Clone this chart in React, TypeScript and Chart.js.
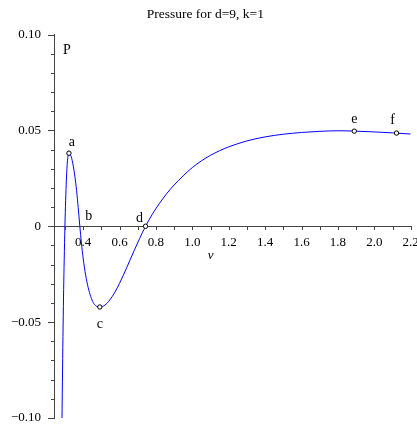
import React, { useEffect, useRef } from 'react';
import { Chart, registerables } from 'chart.js';
Chart.register(...registerables);

// Curve: pressure P against volume v
const V_CURVE = [0.284, 0.287, 0.29, 0.293, 0.296, 0.3, 0.304, 0.308, 0.312, 0.316, 0.322, 0.328, 0.334, 0.34, 0.346, 0.355, 0.364, 0.373, 0.382, 0.39, 0.4, 0.414, 0.428, 0.442, 0.456, 0.47, 0.492, 0.52, 0.547, 0.575, 0.6, 0.64, 0.68, 0.71, 0.743, 0.78, 0.82, 0.86, 0.9, 0.95, 1.0, 1.05, 1.1, 1.15, 1.2, 1.3, 1.4, 1.5, 1.6, 1.7, 1.8, 1.9, 2.0, 2.1, 2.2];
const P_CURVE = [-0.1, -0.075, -0.052, -0.033, -0.018, 0.0, 0.0135, 0.024, 0.0315, 0.036, 0.0381, 0.0377, 0.0364, 0.0343, 0.0314, 0.0258, 0.0187, 0.0097, 0.0, -0.0082, -0.0165, -0.0255, -0.032, -0.0367, -0.0399, -0.0415, -0.0421, -0.0411, -0.0384, -0.0343, -0.0298, -0.0215, -0.0128, -0.0065, 0.0, 0.0062, 0.012, 0.0171, 0.0215, 0.0263, 0.0306, 0.0341, 0.037, 0.0394, 0.0414, 0.0445, 0.0466, 0.048, 0.0489, 0.0495, 0.0498, 0.0496, 0.0492, 0.0487, 0.0481];

// Marked points
const MARK_V = [0.322, 0.492, 0.743, 1.89, 2.122];
const MARK_P = [0.0381, -0.0421, 0.0, 0.0496, 0.0486];

// Point labels
const LABEL_TEXT = ['a', 'b', 'c', 'd', 'e', 'f'];
const LABEL_V = [0.322, 0.382, 0.492, 0.743, 1.89, 2.122];
const LABEL_P = [0.0381, 0.0, -0.0421, 0.0, 0.0496, 0.0486];

// Axes
const X_MIN = 0.24;
const X_MAX = 2.2;
const Y_MIN = -0.1;
const Y_MAX = 0.1;
const X_LABEL_TICKS = [0.4, 0.6, 0.8, 1.0, 1.2, 1.4, 1.6, 1.8, 2.0, 2.2];
const X_TICK_LABELS = ['0.4', '0.6', '0.8', '1.0', '1.2', '1.4', '1.6', '1.8', '2.0', '2.2'];
const X_ALL_TICKS = [0.3, 0.4, 0.5, 0.6, 0.7, 0.8, 0.9, 1.0, 1.1, 1.2, 1.3, 1.4, 1.5, 1.6, 1.7, 1.8, 1.9, 2.0, 2.1, 2.2];
const Y_LABEL_TICKS = [-0.1, -0.05, 0, 0.05, 0.1];
const Y_TICK_LABELS = ['\u22120.10', '\u22120.05', '0', '0.05', '0.10'];
const Y_ALL_TICKS = [-0.1, -0.09, -0.08, -0.07, -0.06, -0.05, -0.04, -0.03, -0.02, -0.01, 0, 0.01, 0.02, 0.03, 0.04, 0.05, 0.06, 0.07, 0.08, 0.09, 0.1];
const Y_MAJOR = [-0.1, -0.05, 0, 0.05, 0.1];

const TITLE = 'Pressure for d=9, k=1';
const Y_AXIS_NAME = 'P';
const X_AXIS_NAME = 'v';

const FONT = "'Liberation Serif', 'Times New Roman', serif";
const AXIS_COLOR = '#444444';

export default function App() {
  const ref = useRef<HTMLCanvasElement>(null);

  useEffect(() => {
    document.body.style.margin = '0';
    const canvas = ref.current;
    if (!canvas) return;

    const labelOffsets: Record<string, [number, number]> = {
      a: [3, -11], b: [9, -10], c: [0, 17], d: [-6, -8], e: [0, -12], f: [-4, -13],
    };

    const overlay = {
      id: 'overlay',
      afterDraw(chart: any) {
        const { ctx, scales, chartArea } = chart;
        const x = scales.x;
        const y = scales.y;
        ctx.save();
        ctx.strokeStyle = AXIS_COLOR;
        ctx.lineWidth = 1;
        const left = Math.round(chartArea.left);
        Y_ALL_TICKS.forEach((v) => {
          const py = Math.round(y.getPixelForValue(v)) + 0.5;
          const major = Y_MAJOR.some((m) => Math.abs(m - v) < 1e-9);
          const len = major ? 6 : 3;
          ctx.beginPath();
          ctx.moveTo(left - len, py);
          ctx.lineTo(left, py);
          ctx.stroke();
        });
        const y0 = Math.round(y.getPixelForValue(0));
        X_ALL_TICKS.forEach((v) => {
          const px = Math.round(x.getPixelForValue(v)) + 0.5;
          ctx.beginPath();
          ctx.moveTo(px, y0);
          ctx.lineTo(px, y0 + 4);
          ctx.stroke();
        });
        ctx.fillStyle = '#000';
        ctx.font = `14px ${FONT}`;
        ctx.textAlign = 'center';
        ctx.textBaseline = 'middle';
        LABEL_TEXT.forEach((t, i) => {
          const px = x.getPixelForValue(LABEL_V[i]);
          const py = y.getPixelForValue(LABEL_P[i]);
          const [dx, dy] = labelOffsets[t];
          ctx.fillText(t, px + dx, py + dy);
        });
        ctx.font = `14px ${FONT}`;
        ctx.textAlign = 'left';
        ctx.fillText(Y_AXIS_NAME, left + 9, chartArea.top + 16);
        ctx.font = `italic 13px ${FONT}`;
        ctx.textAlign = 'center';
        ctx.fillText(X_AXIS_NAME, x.getPixelForValue(1.1), y0 + 30);
        ctx.restore();
      },
    };

    const chart = new Chart(canvas, {
      type: 'scatter',
      data: {
        datasets: [
          {
            data: MARK_V.map((v, i) => ({ x: v, y: MARK_P[i] })),
            showLine: false,
            pointRadius: 2.2,
            pointBorderWidth: 1,
            pointBorderColor: '#000',
            pointBackgroundColor: '#fff',
            order: 0,
          },
          {
            data: V_CURVE.map((v, i) => ({ x: v, y: P_CURVE[i] })),
            showLine: true,
            borderColor: '#0000ff',
            borderWidth: 1,
            pointRadius: 0,
            cubicInterpolationMode: 'monotone',
            order: 1,
          },
        ],
      },
      options: {
        animation: false,
        responsive: false,
        events: [],
        layout: { padding: { left: 0, right: 6.3, top: 0, bottom: 7 } },
        plugins: {
          legend: { display: false },
          tooltip: { enabled: false },
          title: {
            display: true,
            text: TITLE,
            color: '#000',
            font: { family: FONT, size: 13.5, weight: 'normal', lineHeight: 1 },
            padding: { top: 8, bottom: 13 },
          },
        },
        scales: {
          x: {
            type: 'linear',
            position: { y: 0 } as any,
            min: X_MIN,
            max: X_MAX,
            afterBuildTicks: (s: any) => {
              s.ticks = X_LABEL_TICKS.map((v) => ({ value: v }));
            },
            afterFit: (s: any) => {
              s.paddingLeft = 0;
              s.paddingRight = 0;
            },
            ticks: {
              autoSkip: false,
              maxRotation: 0,
              color: '#000',
              padding: 10,
              font: { family: FONT, size: 13, lineHeight: 1 },
              callback: (_v: any, i: number) => X_TICK_LABELS[i],
            },
            grid: { display: true, drawOnChartArea: false, drawTicks: false },
            border: { display: true, color: AXIS_COLOR, width: 1 },
          },
          y: {
            type: 'linear',
            position: 'left',
            min: Y_MIN,
            max: Y_MAX,
            afterBuildTicks: (s: any) => {
              s.ticks = Y_LABEL_TICKS.map((v) => ({ value: v }));
            },
            afterFit: (s: any) => {
              s.width = 54;
              s.paddingTop = 0;
              s.paddingBottom = 0;
            },
            ticks: {
              autoSkip: false,
              color: '#000',
              padding: 13,
              font: { family: FONT, size: 13, lineHeight: 1 },
              callback: (_v: any, i: number) => Y_TICK_LABELS[i],
            },
            grid: { display: true, drawOnChartArea: false, drawTicks: false },
            border: { display: true, color: AXIS_COLOR, width: 1 },
          },
        },
      },
      plugins: [overlay],
    } as any);

    return () => chart.destroy();
  }, []);

  return <canvas ref={ref} width={417} height={425} style={{ display: 'block' }} />;
}
